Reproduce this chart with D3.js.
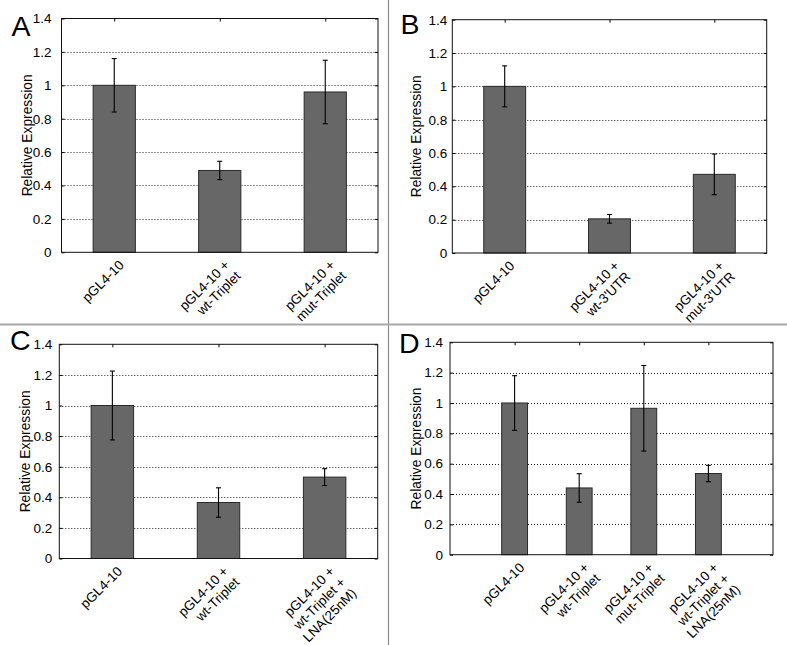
<!DOCTYPE html>
<html><head><meta charset="utf-8">
<script src="https://cdn.jsdelivr.net/npm/d3@7"></script>
<style>
html,body{margin:0;padding:0;background:#fff;}
svg{display:block;font-family:"Liberation Sans",Arial,sans-serif;}
</style></head>
<body>
<svg id="chart" width="787" height="645"></svg>
<script>
// ---------- data ----------
const catsA = ["pGL4-10", "pGL4-10 +\nwt-Triplet", "pGL4-10 +\nmut-Triplet"];
const valsA = [1.00, 0.49, 0.96];
const errA  = [0.16, 0.055, 0.19];

const catsB = ["pGL4-10", "pGL4-10 +\nwt-3'UTR", "pGL4-10 +\nmut-3'UTR"];
const valsB = [1.00, 0.205, 0.472];
const errB  = [0.123, 0.026, 0.122];

const catsC = ["pGL4-10", "pGL4-10 +\nwt-Triplet", "pGL4-10 +\nwt-Triplet +\nLNA(25nM)"];
const valsC = [1.00, 0.366, 0.532];
const errC  = [0.225, 0.096, 0.055];

const catsD = ["pGL4-10", "pGL4-10 +\nwt-Triplet", "pGL4-10 +\nmut-Triplet", "pGL4-10 +\nwt-Triplet +\nLNA(25nM)"];
const valsD = [1.00, 0.44, 0.965, 0.535];
const errD  = [0.18, 0.094, 0.282, 0.054];

const yTicks = [0, 0.2, 0.4, 0.6, 0.8, 1, 1.2, 1.4];
const yTickLabels = ["0", "0.2", "0.4", "0.6", "0.8", "1", "1.2", "1.4"];
const yLabel = "Relative Expression";
const panelLetters = ["A", "B", "C", "D"];

// ---------- layout ----------
const panels = [
  {letter: panelLetters[0], cats: catsA, vals: valsA, errs: errA, left: 61.5, right: 378, top: 18.5, bottom: 252.3, xdom: [0.5, 3.5], lx: 11.5, ly: 35.7, ylx: 30, tpad: 10},
  {letter: panelLetters[1], cats: catsB, vals: valsB, errs: errB, left: 452.3, right: 766.7, top: 19.7, bottom: 253, xdom: [0.5, 3.5], lx: 400.5, ly: 34.3, ylx: 31, tpad: 5},
  {letter: panelLetters[2], cats: catsC, vals: valsC, errs: errC, left: 59.3, right: 377.7, top: 344.3, bottom: 558.5, xdom: [0.5, 3.5], lx: 10, ly: 350, ylx: 29, tpad: 7},
  {letter: panelLetters[3], cats: catsD, vals: valsD, errs: errD, left: 450, right: 773, top: 342.3, bottom: 554.7, xdom: [0, 5], lx: 399, ly: 353, ylx: 29, tpad: 7}
];

const svg = d3.select("#chart");

// panel dividers
svg.append("line").attr("x1", 388.5).attr("x2", 388.5).attr("y1", 0).attr("y2", 645)
  .attr("stroke", "#8c8c8c").attr("stroke-width", 1.2);
svg.append("line").attr("x1", 0).attr("x2", 787).attr("y1", 324.5).attr("y2", 324.5)
  .attr("stroke", "#a8a8a8").attr("stroke-width", 2);

panels.forEach(p => {
  const g = svg.append("g");
  const x = d3.scaleLinear().domain(p.xdom).range([p.left, p.right]);
  const y = d3.scaleLinear().domain([0, 1.4]).range([p.bottom, p.top]);
  const idx = p.cats.map((c, i) => i + 1);
  const bw = 0.4; // in category units

  // gridlines (dotted)
  g.append("g").selectAll("line").data(yTicks.filter(t => t > 0 && t < 1.4)).join("line")
    .attr("x1", p.left).attr("x2", p.right)
    .attr("y1", d => Math.round(y(d)) + 0.5).attr("y2", d => Math.round(y(d)) + 0.5)
    .attr("stroke", "#222").attr("stroke-width", 1).attr("stroke-dasharray", "1,2");

  // y axis (left) via d3 axis, ticks inside
  const yAxis = d3.axisLeft(y).tickValues(yTicks).tickFormat((d, i) => yTickLabels[i]).tickSize(-3).tickPadding(p.tpad);
  const ya = g.append("g").attr("transform", `translate(${p.left},0)`).call(yAxis);
  ya.select(".domain").remove();
  ya.selectAll("line").attr("stroke", "#000");
  ya.selectAll("text").attr("font-size", 13.5).attr("fill", "#000").attr("font-family", "Liberation Sans, Arial, sans-serif");

  // right ticks
  const yAxisR = d3.axisRight(y).tickValues(yTicks).tickSize(-3).tickFormat("");
  const yr = g.append("g").attr("transform", `translate(${p.right},0)`).call(yAxisR);
  yr.select(".domain").remove();
  yr.selectAll("line").attr("stroke", "#000");

  // top ticks
  const xAxisT = d3.axisTop(x).tickValues(idx).tickSize(-3).tickFormat("");
  const xt = g.append("g").attr("transform", `translate(0,${p.top})`).call(xAxisT);
  xt.select(".domain").remove();
  xt.selectAll("line").attr("stroke", "#000");

  // bars
  g.append("g").selectAll("rect").data(p.vals).join("rect")
    .attr("x", (d, i) => x(i + 1 - bw / 2))
    .attr("width", (d, i) => x(i + 1 + bw / 2) - x(i + 1 - bw / 2))
    .attr("y", d => y(d))
    .attr("height", d => y(0) - y(d))
    .attr("fill", "#676767").attr("stroke", "#2a2a2a").attr("stroke-width", 1);

  // error bars
  const eg = g.append("g").attr("stroke", "#000").attr("stroke-width", 1.1);
  p.vals.forEach((v, i) => {
    const cx = x(i + 1), e = p.errs[i];
    eg.append("line").attr("x1", cx).attr("x2", cx).attr("y1", y(v + e)).attr("y2", y(v - e));
    eg.append("line").attr("x1", cx - 2.5).attr("x2", cx + 2.5).attr("y1", y(v + e)).attr("y2", y(v + e));
    eg.append("line").attr("x1", cx - 2.5).attr("x2", cx + 2.5).attr("y1", y(v - e)).attr("y2", y(v - e));
  });

  // axes box
  g.append("rect").attr("x", p.left).attr("y", p.top)
    .attr("width", p.right - p.left).attr("height", p.bottom - p.top)
    .attr("fill", "none").attr("stroke", "#111").attr("stroke-width", 1);

  // x tick labels, rotated 45 deg
  p.cats.forEach((c, i) => {
    const lines = c.split("\n");
    const tg = g.append("g").attr("transform", `translate(${x(i + 1) + 3},${p.bottom + 6}) rotate(-45)`);
    const t = tg.append("text").attr("text-anchor", "end").attr("font-size", 13.5).attr("fill", "#000");
    lines.forEach((ln, k) => {
      t.append("tspan").attr("x", 0).attr("y", 0).attr("dy", (0.8 + k * 1.15) + "em").text(ln);
    });
  });

  // y label
  g.append("text")
    .attr("transform", `translate(${p.left - p.ylx},${(p.top + p.bottom) / 2}) rotate(-90)`)
    .attr("text-anchor", "middle").attr("font-size", 13.8).attr("fill", "#000")
    .text(yLabel);

  // panel letter
  g.append("text").attr("x", p.lx).attr("y", p.ly).attr("font-size", 28.5).attr("fill", "#000").text(p.letter);
});
</script>
</body></html>
